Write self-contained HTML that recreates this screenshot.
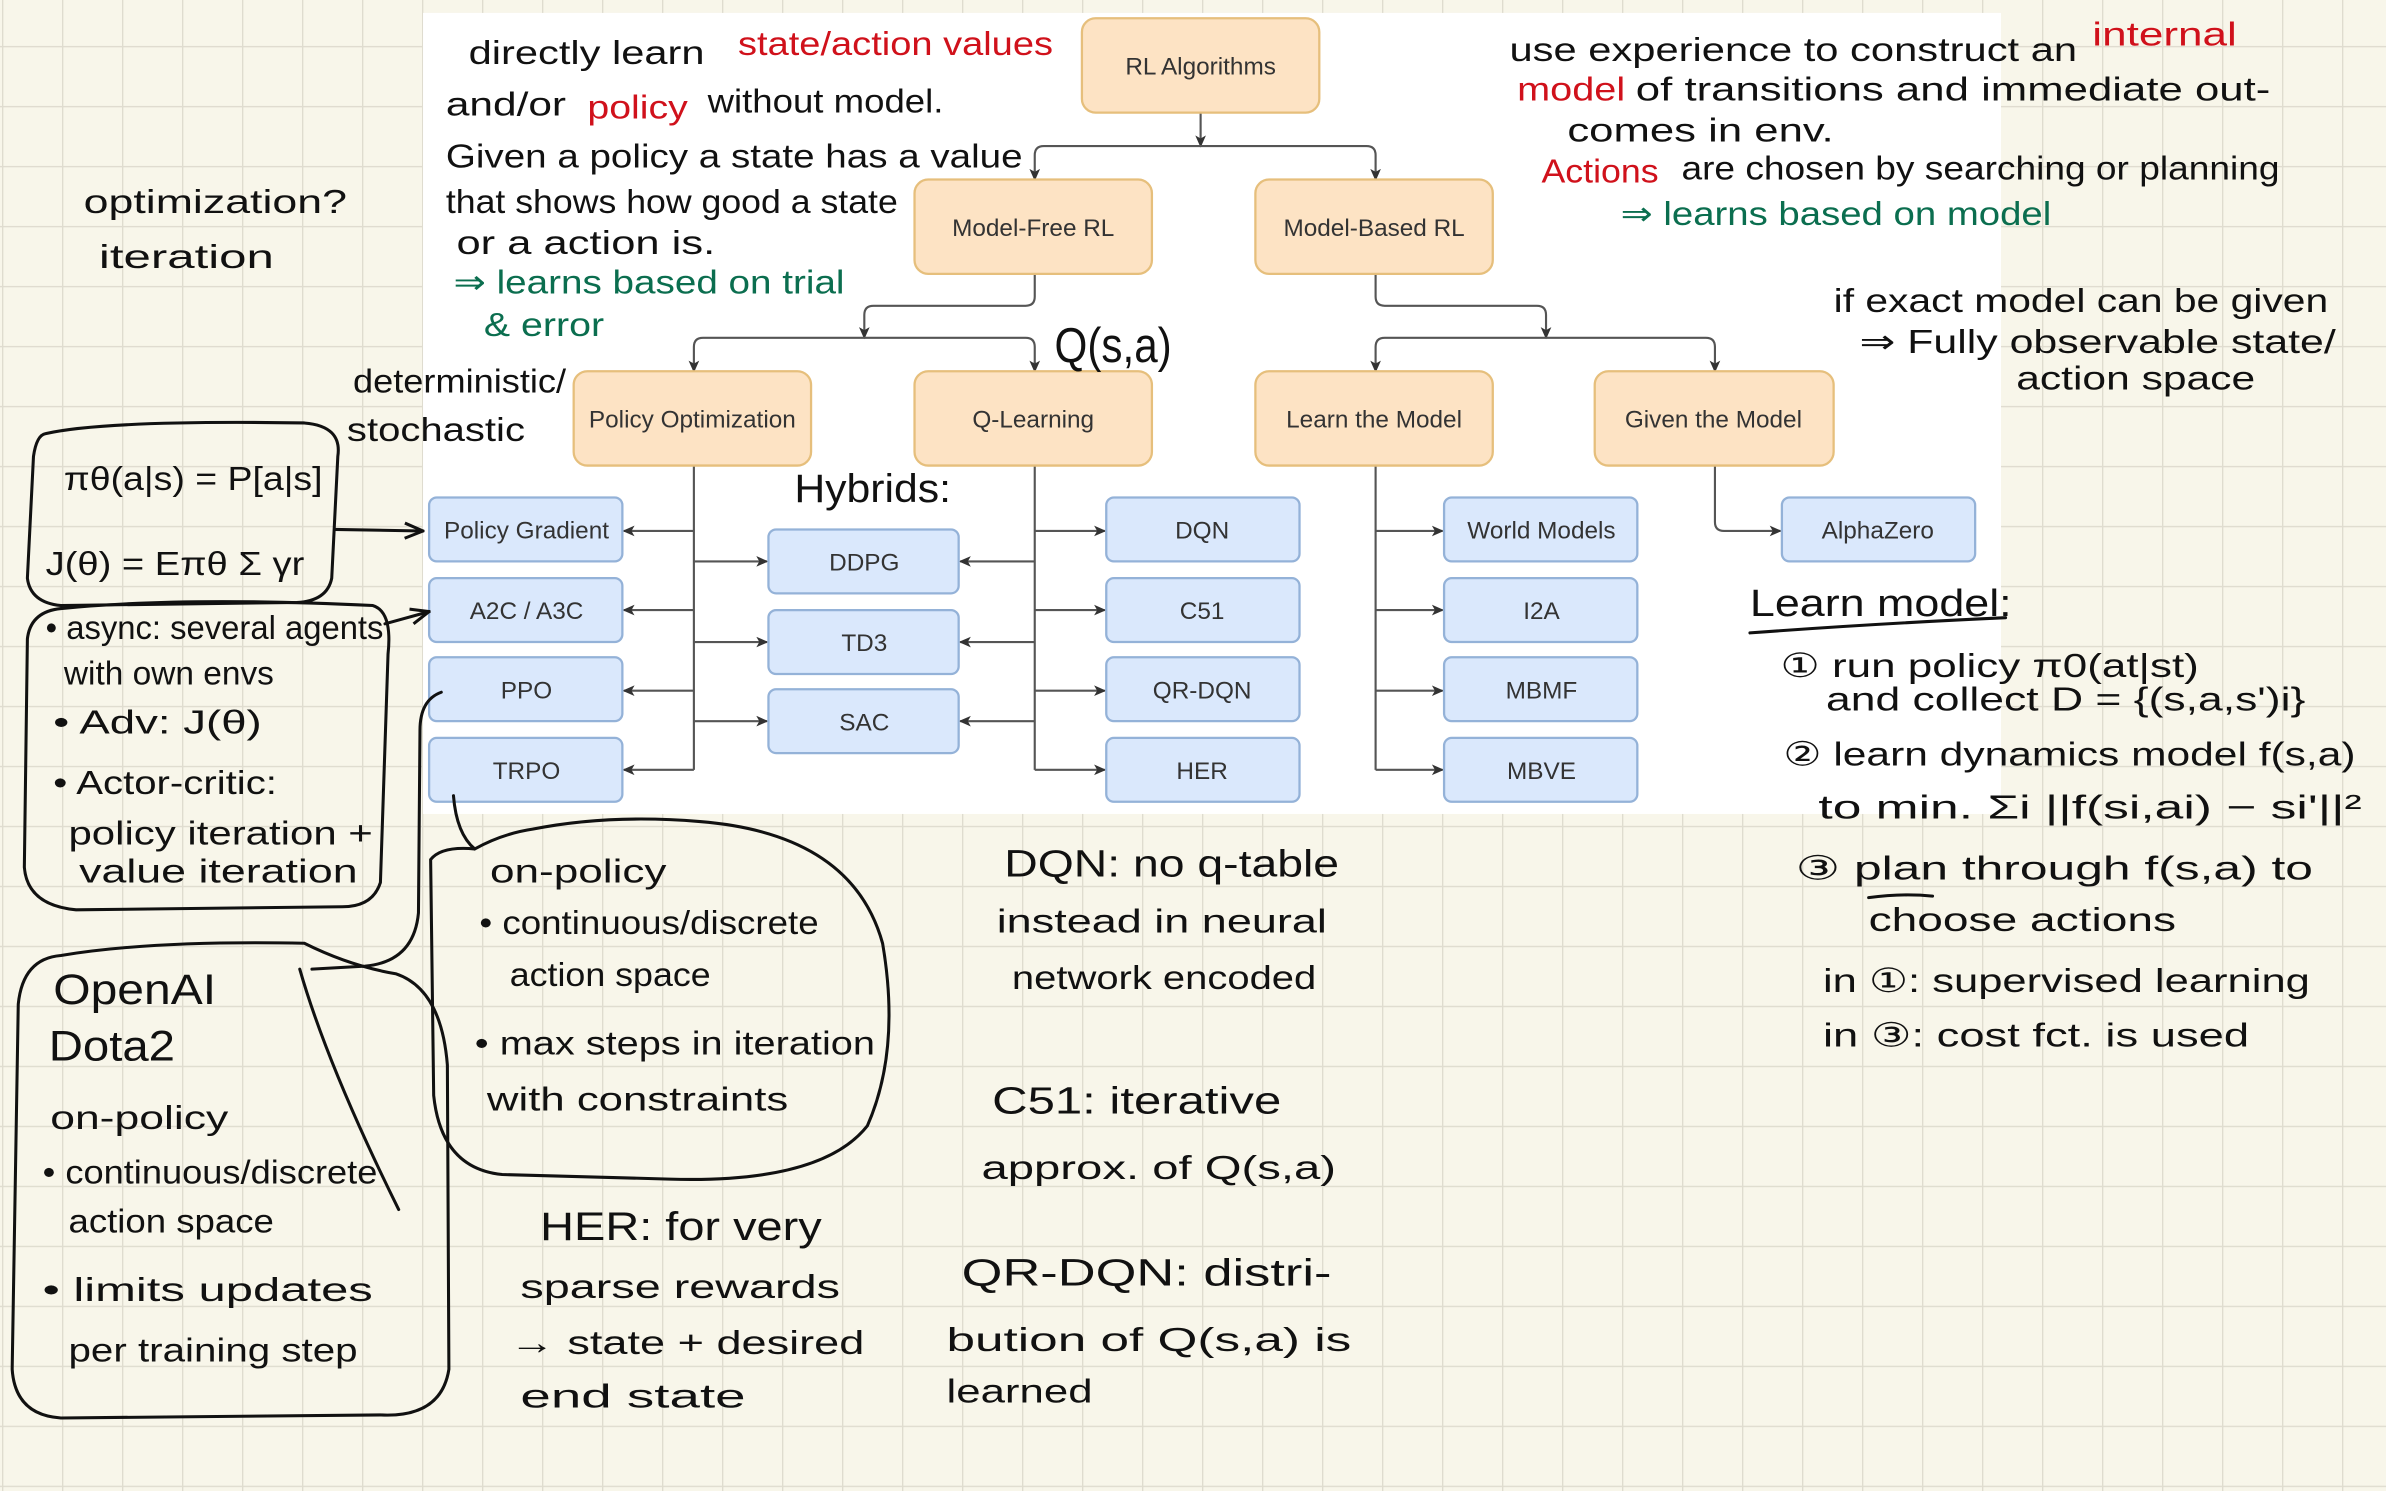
<!DOCTYPE html>
<html><head><meta charset="utf-8"><style>
html,body{margin:0;padding:0;background:#f8f6ea;}
svg{display:block}
.h{font-family:"Liberation Sans","DejaVu Sans",sans-serif;font-size:22px;fill:#111;}
.r{fill:#d0111b}.g{fill:#0b6e4f}
.n{font-family:"Liberation Sans","DejaVu Sans",sans-serif;font-size:16px;fill:#333;text-anchor:middle}
.o{fill:#fde3c4;stroke:#e6bf7c;stroke-width:1.5}
.b{fill:#dae8fc;stroke:#94b2d8;stroke-width:1.5}
.c{stroke:#555;stroke-width:1.4;fill:none}
.p{stroke:#111;stroke-width:2;fill:none;stroke-linecap:round}
</style></head><body>
<svg width="2386" height="1491" viewBox="0 0 1568 980" preserveAspectRatio="none" xmlns="http://www.w3.org/2000/svg">
<defs>
<pattern id="grid" patternUnits="userSpaceOnUse" x="1.3" y="30.2" width="39.43" height="39.43">
<path d="M0 0H39.43M0 0V39.43" stroke="#dfdccf" stroke-width="1.8" fill="none"/>
</pattern>
<marker id="a" markerWidth="8" markerHeight="8" refX="7" refY="4" orient="auto" markerUnits="userSpaceOnUse"><path d="M0 0.5L8 4L0 7.5L2 4z" fill="#333"/></marker>
<marker id="k" markerWidth="14" markerHeight="12" refX="13" refY="6" orient="auto" markerUnits="userSpaceOnUse"><path d="M1 1L13 6L1 11" fill="none" stroke="#111" stroke-width="2"/></marker>
</defs>
<rect width="1568" height="980" fill="#f8f6ea"/>
<rect width="1568" height="980" fill="url(#grid)"/>
<rect x="278" y="8.5" width="1037" height="526.5" fill="#fff"/>

<g class="c">
<path d="M789 74V96" marker-end="url(#a)"/>
<path d="M680 118V102Q680 96 686 96H898Q904 96 904 102V118" />
<path d="M680 112V118" marker-end="url(#a)"/><path d="M904 112V118" marker-end="url(#a)"/>
<path d="M680 180V195Q680 201 674 201H574Q568 201 568 207V222" marker-end="url(#a)"/>
<path d="M904 180V195Q904 201 910 201H1010Q1016 201 1016 207V222" marker-end="url(#a)"/>
<path d="M456 244V228Q456 222 462 222H674Q680 222 680 228V244"/>
<path d="M904 244V228Q904 222 910 222H1121Q1127 222 1127 228V244"/>
<path d="M456 238V244" marker-end="url(#a)"/><path d="M680 238V244" marker-end="url(#a)"/>
<path d="M904 238V244" marker-end="url(#a)"/><path d="M1127 238V244" marker-end="url(#a)"/>
<path d="M456 306V506"/><path d="M680 306V506"/><path d="M904 306V506"/>
<path d="M456 349H410" marker-end="url(#a)"/><path d="M456 401H410" marker-end="url(#a)"/>
<path d="M456 454H410" marker-end="url(#a)"/><path d="M456 506H410" marker-end="url(#a)"/>
<path d="M456 369H504" marker-end="url(#a)"/><path d="M456 422H504" marker-end="url(#a)"/><path d="M456 474H504" marker-end="url(#a)"/>
<path d="M680 369H631" marker-end="url(#a)"/><path d="M680 422H631" marker-end="url(#a)"/><path d="M680 474H631" marker-end="url(#a)"/>
<path d="M680 349H726" marker-end="url(#a)"/><path d="M680 401H726" marker-end="url(#a)"/>
<path d="M680 454H726" marker-end="url(#a)"/><path d="M680 506H726" marker-end="url(#a)"/>
<path d="M904 349H948" marker-end="url(#a)"/><path d="M904 401H948" marker-end="url(#a)"/>
<path d="M904 454H948" marker-end="url(#a)"/><path d="M904 506H948" marker-end="url(#a)"/>
<path d="M1127 306V343Q1127 349 1133 349H1170" marker-end="url(#a)"/>
</g>

<rect class="o" x="711" y="12" width="156" height="62" rx="9"/><text class="n" x="789" y="49">RL Algorithms</text>
<rect class="o" x="601" y="118" width="156" height="62" rx="9"/><text class="n" x="679" y="155">Model-Free RL</text>
<rect class="o" x="825" y="118" width="156" height="62" rx="9"/><text class="n" x="903" y="155">Model-Based RL</text>
<rect class="o" x="377" y="244" width="156" height="62" rx="9"/><text class="n" x="455" y="281">Policy Optimization</text>
<rect class="o" x="601" y="244" width="156" height="62" rx="9"/><text class="n" x="679" y="281">Q-Learning</text>
<rect class="o" x="825" y="244" width="156" height="62" rx="9"/><text class="n" x="903" y="281">Learn the Model</text>
<rect class="o" x="1048" y="244" width="157" height="62" rx="9"/><text class="n" x="1126" y="281">Given the Model</text>
<g>
<rect class="b" x="282" y="327" width="127" height="42" rx="5"/><text class="n" x="346" y="354">Policy Gradient</text>
<rect class="b" x="282" y="380" width="127" height="42" rx="5"/><text class="n" x="346" y="407">A2C / A3C</text>
<rect class="b" x="282" y="432" width="127" height="42" rx="5"/><text class="n" x="346" y="459">PPO</text>
<rect class="b" x="282" y="485" width="127" height="42" rx="5"/><text class="n" x="346" y="512">TRPO</text>
<rect class="b" x="505" y="348" width="125" height="42" rx="5"/><text class="n" x="568" y="375">DDPG</text>
<rect class="b" x="505" y="401" width="125" height="42" rx="5"/><text class="n" x="568" y="428">TD3</text>
<rect class="b" x="505" y="453" width="125" height="42" rx="5"/><text class="n" x="568" y="480">SAC</text>
<rect class="b" x="727" y="327" width="127" height="42" rx="5"/><text class="n" x="790" y="354">DQN</text>
<rect class="b" x="727" y="380" width="127" height="42" rx="5"/><text class="n" x="790" y="407">C51</text>
<rect class="b" x="727" y="432" width="127" height="42" rx="5"/><text class="n" x="790" y="459">QR-DQN</text>
<rect class="b" x="727" y="485" width="127" height="42" rx="5"/><text class="n" x="790" y="512">HER</text>
<rect class="b" x="949" y="327" width="127" height="42" rx="5"/><text class="n" x="1013" y="354">World Models</text>
<rect class="b" x="949" y="380" width="127" height="42" rx="5"/><text class="n" x="1013" y="407">I2A</text>
<rect class="b" x="949" y="432" width="127" height="42" rx="5"/><text class="n" x="1013" y="459">MBMF</text>
<rect class="b" x="949" y="485" width="127" height="42" rx="5"/><text class="n" x="1013" y="512">MBVE</text>
<rect class="b" x="1171" y="327" width="127" height="42" rx="5"/><text class="n" x="1234" y="354">AlphaZero</text>
</g>

<path class="p" d="M30 285Q70 276 200 278Q225 280 222 300L218 380Q215 395 195 396L40 398Q20 396 18 380L22 300Q24 286 30 285Z"/>
<path class="p" d="M220 348L278 349" marker-end="url(#k)"/>
<path class="p" d="M40 400Q120 392 245 398Q258 402 255 430L250 580Q245 596 225 596L50 598Q18 595 16 570L18 420Q20 402 40 400Z"/>
<path class="p" d="M253 410L282 402" marker-end="url(#k)"/>
<path class="p" d="M40 628Q100 618 200 620Q230 635 260 640Q290 650 294 700L295 900Q290 932 250 930L40 932Q10 930 8 900L12 660Q15 630 40 628Z"/>
<path class="p" d="M290 455Q276 460 276 480L275 600Q272 632 240 635L205 637"/>
<path class="p" d="M197 637Q215 700 262 795"/>
<path class="p" d="M298 523Q300 548 312 558Q330 548 350 545Q400 535 460 540Q560 548 580 620Q592 690 570 740Q540 778 440 775L330 772Q290 768 285 720L283 565Q290 556 312 558"/>
<path class="p" d="M1150 416Q1230 410 1318 406" stroke-width="1.6"/>
<path class="p" d="M1228 590Q1250 587 1270 589" stroke-width="1.4"/>

<g class="h">
<text x="308" y="42" textLength="155" lengthAdjust="spacingAndGlyphs">directly learn</text>
<text class="h r" x="485" y="36" textLength="207" lengthAdjust="spacingAndGlyphs">state/action values</text>
<text x="293" y="76" textLength="79" lengthAdjust="spacingAndGlyphs">and/or</text>
<text class="h r" x="386" y="78" textLength="66" lengthAdjust="spacingAndGlyphs">policy</text>
<text x="465" y="74" textLength="155" lengthAdjust="spacingAndGlyphs">without model.</text>
<text x="293" y="110" textLength="379" lengthAdjust="spacingAndGlyphs">Given a policy a state has a value</text>
<text x="293" y="140" textLength="297" lengthAdjust="spacingAndGlyphs">that shows how good a state</text>
<text x="300" y="167" textLength="170" lengthAdjust="spacingAndGlyphs">or a action is.</text>
<text class="h g" x="298" y="193" textLength="257" lengthAdjust="spacingAndGlyphs">⇒ learns based on trial</text>
<text class="h g" x="318" y="221" textLength="79" lengthAdjust="spacingAndGlyphs">&amp; error</text>

<text x="992" y="40" textLength="373" lengthAdjust="spacingAndGlyphs">use experience to construct an</text>
<text class="h r" x="1375" y="30" textLength="95" lengthAdjust="spacingAndGlyphs">internal</text>
<text class="h r" x="997" y="66" textLength="71" lengthAdjust="spacingAndGlyphs">model</text>
<text x="1075" y="66" textLength="417" lengthAdjust="spacingAndGlyphs">of transitions and immediate out-</text>
<text x="1030" y="93" textLength="175" lengthAdjust="spacingAndGlyphs">comes in env.</text>
<text class="h r" x="1013" y="120" textLength="77" lengthAdjust="spacingAndGlyphs">Actions</text>
<text x="1105" y="118" textLength="393" lengthAdjust="spacingAndGlyphs">are chosen by searching or planning</text>
<text class="h g" x="1065" y="148" textLength="283" lengthAdjust="spacingAndGlyphs">⇒ learns based on model</text>

<text x="55" y="140" textLength="173" lengthAdjust="spacingAndGlyphs">optimization?</text>
<text x="65" y="176" textLength="115" lengthAdjust="spacingAndGlyphs">iteration</text>
<text x="232" y="258" textLength="140" lengthAdjust="spacingAndGlyphs">deterministic/</text>
<text x="228" y="290" textLength="117" lengthAdjust="spacingAndGlyphs">stochastic</text>
<text x="693" y="238" font-size="32" textLength="77" lengthAdjust="spacingAndGlyphs">Q(s,a)</text>
<text x="522" y="330" font-size="26" textLength="103" lengthAdjust="spacingAndGlyphs">Hybrids:</text>
<text x="1205" y="205" textLength="325" lengthAdjust="spacingAndGlyphs">if exact model can be given</text>
<text x="1222" y="232" textLength="313" lengthAdjust="spacingAndGlyphs">⇒ Fully observable state/</text>
<text x="1325" y="256" textLength="157" lengthAdjust="spacingAndGlyphs">action space</text>

<text x="42" y="322" textLength="170" lengthAdjust="spacingAndGlyphs">πθ(a|s) = P[a|s]</text>
<text x="30" y="378" textLength="170" lengthAdjust="spacingAndGlyphs">J(θ) = Eπθ Σ γr</text>
<text x="30" y="420" textLength="222" lengthAdjust="spacingAndGlyphs">• async: several agents</text>
<text x="42" y="450" textLength="138" lengthAdjust="spacingAndGlyphs">with own envs</text>
<text x="35" y="482" textLength="137" lengthAdjust="spacingAndGlyphs">• Adv: J(θ)</text>
<text x="35" y="522" textLength="147" lengthAdjust="spacingAndGlyphs">• Actor-critic:</text>
<text x="45" y="555" textLength="200" lengthAdjust="spacingAndGlyphs">policy iteration +</text>
<text x="52" y="580" textLength="183" lengthAdjust="spacingAndGlyphs">value iteration</text>

<text x="35" y="660" font-size="28" textLength="107" lengthAdjust="spacingAndGlyphs">OpenAI</text>
<text x="32" y="697" font-size="28" textLength="83" lengthAdjust="spacingAndGlyphs">Dota2</text>
<text x="33" y="742" textLength="117" lengthAdjust="spacingAndGlyphs">on-policy</text>
<text x="28" y="778" textLength="220" lengthAdjust="spacingAndGlyphs">• continuous/discrete</text>
<text x="45" y="810" textLength="135" lengthAdjust="spacingAndGlyphs">action space</text>
<text x="28" y="855" textLength="217" lengthAdjust="spacingAndGlyphs">• limits updates</text>
<text x="45" y="895" textLength="190" lengthAdjust="spacingAndGlyphs">per training step</text>

<text x="322" y="580" textLength="116" lengthAdjust="spacingAndGlyphs">on-policy</text>
<text x="315" y="614" textLength="223" lengthAdjust="spacingAndGlyphs">• continuous/discrete</text>
<text x="335" y="648" textLength="132" lengthAdjust="spacingAndGlyphs">action space</text>
<text x="312" y="693" textLength="263" lengthAdjust="spacingAndGlyphs">• max steps in iteration</text>
<text x="320" y="730" textLength="198" lengthAdjust="spacingAndGlyphs">with constraints</text>

<text x="355" y="815" font-size="26" textLength="185" lengthAdjust="spacingAndGlyphs">HER: for very</text>
<text x="342" y="853" textLength="210" lengthAdjust="spacingAndGlyphs">sparse rewards</text>
<text x="335" y="890" textLength="233" lengthAdjust="spacingAndGlyphs">→ state + desired</text>
<text x="342" y="925" textLength="148" lengthAdjust="spacingAndGlyphs">end state</text>

<text x="660" y="576" font-size="25" textLength="220" lengthAdjust="spacingAndGlyphs">DQN: no q-table</text>
<text x="655" y="613" textLength="217" lengthAdjust="spacingAndGlyphs">instead in neural</text>
<text x="665" y="650" textLength="200" lengthAdjust="spacingAndGlyphs">network encoded</text>
<text x="652" y="732" font-size="25" textLength="190" lengthAdjust="spacingAndGlyphs">C51: iterative</text>
<text x="645" y="775" textLength="233" lengthAdjust="spacingAndGlyphs">approx. of Q(s,a)</text>
<text x="632" y="845" font-size="25" textLength="243" lengthAdjust="spacingAndGlyphs">QR-DQN: distri-</text>
<text x="622" y="888" textLength="266" lengthAdjust="spacingAndGlyphs">bution of Q(s,a) is</text>
<text x="622" y="922" textLength="96" lengthAdjust="spacingAndGlyphs">learned</text>

<text x="1150" y="405" font-size="25" textLength="172" lengthAdjust="spacingAndGlyphs">Learn model:</text>
<text x="1170" y="445" textLength="275" lengthAdjust="spacingAndGlyphs">① run policy π0(at|st)</text>
<text x="1200" y="467" textLength="315" lengthAdjust="spacingAndGlyphs">and collect D = {(s,a,s')i}</text>
<text x="1172" y="503" textLength="376" lengthAdjust="spacingAndGlyphs">② learn dynamics model f(s,a)</text>
<text x="1195" y="538" textLength="357" lengthAdjust="spacingAndGlyphs">to min. Σi ||f(si,ai) − si'||²</text>
<text x="1180" y="578" textLength="340" lengthAdjust="spacingAndGlyphs">③ plan through f(s,a) to</text>
<text x="1228" y="612" textLength="202" lengthAdjust="spacingAndGlyphs">choose actions</text>
<text x="1198" y="652" textLength="320" lengthAdjust="spacingAndGlyphs">in ①: supervised learning</text>
<text x="1198" y="688" textLength="280" lengthAdjust="spacingAndGlyphs">in ③: cost fct. is used</text>
</g>
</svg>
</body></html>
